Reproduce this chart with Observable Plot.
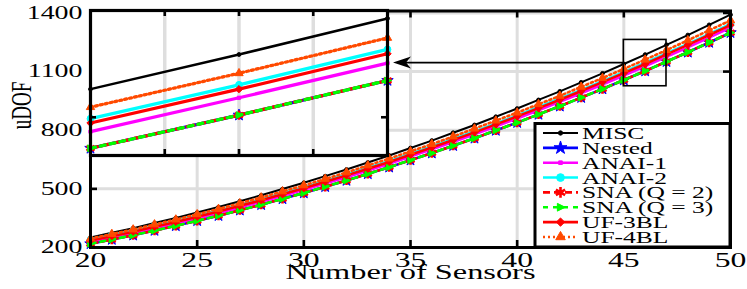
<!DOCTYPE html>
<html><head><meta charset="utf-8">
<script src="https://cdn.jsdelivr.net/npm/d3@7"></script>
<script src="https://cdn.jsdelivr.net/npm/@observablehq/plot@0.6"></script>
<style>
html,body{margin:0;padding:0;background:#fff;}
#wrap{position:relative;width:747px;height:289px;overflow:hidden;}
#wrap svg{position:absolute;left:0;top:0;}
</style></head><body><div id="wrap"></div>
<script>
// ---- data ----
const sensors = [20,21,22,23,24,25,26,27,28,29,30,31,32,33,34,35,36,37,38,39,40,41,42,43,44,45,46,47,48,49,50];
const misc   = [251,275,299,325,351,379,407,437,467,499,531,565,599,635,671,709,747,787,827,869,911,955,999,1045,1091,1139,1187,1237,1287,1339,1391];
const nested = [219,241,263,287,311,337,363,391,419,449,479,511,543,577,611,647,683,721,759,799,839,881,923,967,1011,1057,1103,1151,1199,1249,1299];
const anai1  = [230,252,275,299,324,350,377,405,434,464,495,527,560,594,629,665,702,740,779,819,860,902,945,989,1034,1080,1127,1175,1224,1274,1325];
const anai2  = [240,263,286,310,335,362,389,418,446,477,508,541,574,608,643,680,717,756,794,835,876,919,962,1006,1051,1098,1145,1194,1242,1293,1344];
const snaQ2  = [219,241,263,287,311,337,363,391,419,449,479,511,543,577,611,647,683,721,759,799,839,881,923,967,1011,1057,1103,1151,1199,1249,1299];
const snaQ3  = [219,241,263,287,311,337,363,391,419,449,479,511,543,577,611,647,683,721,759,799,839,881,923,967,1011,1057,1103,1151,1199,1249,1299];
const uf3bl  = [236,258,281,306,331,357,384,413,442,472,503,536,569,603,638,675,712,750,789,830,871,913,956,1001,1046,1092,1139,1188,1237,1287,1338];
const uf4bl  = [246,269,292,318,343,370,397,426,456,487,518,551,584,620,655,692,729,768,808,849,890,933,976,1022,1067,1114,1161,1210,1260,1311,1362];
const seriesNames = ["MISC","Nested","ANAI-1","ANAI-2","SNA (Q = 2)","SNA (Q = 3)","UF-3BL","UF-4BL"];
const seriesValues = [misc,nested,anai1,anai2,snaQ2,snaQ3,uf3bl,uf4bl];
const xTicks = [20,25,30,35,40,45,50];
const yTicks = [200,500,800,1100,1400];
const xDomain = [20,50];
const yDomain = [200,1410];
const insetXDomain = [45,47];
const insetYDomain = [1047,1248];
const insetXTicks = [45.5,46,46.5];
const insetYTicks = [1100];
const zoomBox = {x1:45, x2:47, y1:1025, y2:1262};
const xLabel = "Number of Sensors";
const yLabel = "uDOF";

// ---- styles ----
const triRight = {draw(ctx, size){const s=Math.sqrt(size); ctx.moveTo(0.75*s,0); ctx.lineTo(-0.5*s,-0.62*s); ctx.lineTo(-0.5*s,0.62*s); ctx.closePath();}};
const styles = [
  {color:"#000000", width:2,   dash:null,     symbol:"circle",   r:1.9, fill:true},
  {color:"#0000ff", width:2.6, dash:null,     symbol:"star",     r:3.6, fill:true},
  {color:"#ff00ff", width:2.6, dash:null,     symbol:"square",   r:1.8, fill:true},
  {color:"#00ffff", width:2.6, dash:null,     symbol:"circle",   r:3.4, fill:true},
  {color:"#ff0000", width:2.6, dash:"7,4",    symbol:"asterisk", r:4.4, fill:false},
  {color:"#00ff00", width:2.6, dash:"5,5",    symbol:triRight,   r:3.1, fill:true},
  {color:"#ff0000", width:2.6, dash:null,     symbol:"diamond2", r:3.3, fill:true},
  {color:"#ff4a00", width:2.6, dash:"2,3",    symbol:"triangle", r:3.1, fill:true}
];
const W=747, H=289, FONT="Liberation Serif";

function seriesMarks(filterFn, widthScale){
  const marks=[];
  seriesValues.forEach((vals,k)=>{
    const st=styles[k];
    const rows=sensors.map((n,i)=>({n, v:vals[i]})).filter(filterFn);
    marks.push(Plot.line(rows,{x:"n",y:"v",stroke:st.color,strokeWidth:st.width*widthScale,strokeDasharray:st.dash}));
    marks.push(Plot.dot(rows,{x:"n",y:"v",symbol:st.symbol,r:st.r,
      fill:st.fill?st.color:"none",stroke:st.color,strokeWidth:st.fill?1:2.6}));
  });
  return marks;
}

const mainFrameH = H-10.5-42, mainFrameW = W-90-17;
const main = Plot.plot({
  width:W, height:H, marginLeft:90, marginRight:17, marginTop:10.5, marginBottom:42,
  x:{domain:xDomain}, y:{domain:yDomain},
  style:{fontFamily:FONT, background:"white", color:"black"},
  marks:[
    Plot.gridX(xTicks,{stroke:"#dedede",strokeOpacity:1,strokeWidth:3}),
    Plot.gridY(yTicks,{stroke:"#dedede",strokeOpacity:1,strokeWidth:3}),
    ...seriesMarks(()=>true,1),
    Plot.rect([zoomBox],{x1:"x1",x2:"x2",y1:"y1",y2:"y2",fill:"none",stroke:"black",strokeWidth:1.6}),
    Plot.ruleX(xTicks,{x:d=>d,insetTop:mainFrameH-7,stroke:"black",strokeWidth:2.6}),
    Plot.ruleX(xTicks,{x:d=>d,insetBottom:mainFrameH-7,stroke:"black",strokeWidth:2.6}),
    Plot.ruleY(yTicks,{y:d=>d,insetRight:mainFrameW-7,stroke:"black",strokeWidth:2.6}),
    Plot.ruleY(yTicks,{y:d=>d,insetLeft:mainFrameW-7,stroke:"black",strokeWidth:2.6}),
    Plot.frame({stroke:"black",strokeWidth:3}),
    Plot.axisX(xTicks,{tickSize:0,tickPadding:5,fontSize:20,label:null,tickFormat:"d"}),
    Plot.axisY(yTicks,{tickSize:0,tickPadding:8,fontSize:18,label:null,tickFormat:"d"}),
    Plot.text([xLabel],{frameAnchor:"bottom",lineAnchor:"bottom",dy:31,fontSize:20}),
    Plot.text([yLabel],{frameAnchor:"left",rotate:-90,lineAnchor:"bottom",dx:-60,fontSize:19})
  ]
});

const insetL=90, insetR=387, insetT=10, insetB=155;
const insetFrameH=insetB-insetT, insetFrameW=insetR-insetL;
const inset = Plot.plot({
  width:W, height:H, marginLeft:insetL, marginRight:W-insetR, marginTop:insetT, marginBottom:H-insetB,
  x:{domain:insetXDomain, axis:null}, y:{domain:insetYDomain, axis:null},
  style:{background:"transparent", fontFamily:FONT},
  marks:[
    Plot.frame({fill:"white",stroke:"none"}),
    Plot.gridX(insetXTicks,{stroke:"#dedede",strokeOpacity:1,strokeWidth:3.5}),
    ...seriesMarks(d=>d.n>=insetXDomain[0]&&d.n<=insetXDomain[1],1.25),
    Plot.ruleX(insetXTicks,{x:d=>d,insetTop:insetFrameH-6,stroke:"black",strokeWidth:2.6}),
    Plot.ruleX(insetXTicks,{x:d=>d,insetBottom:insetFrameH-6,stroke:"black",strokeWidth:2.6}),
    Plot.ruleY(insetYTicks,{y:d=>d,insetRight:insetFrameW-6,stroke:"black",strokeWidth:2.6}),
    Plot.ruleY(insetYTicks,{y:d=>d,insetLeft:insetFrameW-6,stroke:"black",strokeWidth:2.6}),
    Plot.frame({stroke:"black",strokeWidth:3.2})
  ]
});

function stretchEl(el, sx){
  let t=el.getAttribute("transform")||"";
  const x=el.getAttribute("x");
  if(x!==null && isFinite(+x)){ t+=` translate(${+x},0)`; el.removeAttribute("x"); }
  const rot=/rotate\(\s*(-90|270)/.test(t);
  t+= rot?` scale(1,${sx})`:` scale(${sx},1)`;
  el.setAttribute("transform",t.trim());
}
main.querySelectorAll('g[aria-label="x-axis tick label"] text').forEach(el=>stretchEl(el,1.58));
main.querySelectorAll('g[aria-label="y-axis tick label"] text').forEach(el=>stretchEl(el,1.55));
main.querySelectorAll('text').forEach(el=>{
  if(el.textContent===xLabel) stretchEl(el,1.62);
  else if(el.textContent===yLabel) stretchEl(el,1.6);
});

// arrow from zoom box to inset
const sx=main.scale("x"), sy=main.scale("y");
const ay=sy.apply((zoomBox.y1+zoomBox.y2)/2);
const ax0=sx.apply(zoomBox.x1), tip=insetR+6;
const g=d3.select(main).append("g");
g.append("line").attr("x1",ax0).attr("x2",tip+12).attr("y1",ay).attr("y2",ay).attr("stroke","black").attr("stroke-width",1.6);
g.append("path").attr("d",`M${tip},${ay}L${tip+18},${ay-6}L${tip+13},${ay}L${tip+18},${ay+6}Z`).attr("fill","black");

// legend
const lg=d3.select(main).append("g").attr("font-family",FONT).attr("text-anchor","start");
const lx0=535, lx1=sx.apply(xDomain[1]), ly0=123.5, ly1=sy.apply(yDomain[0]);
lg.append("rect").attr("x",lx0).attr("y",ly0).attr("width",lx1-lx0).attr("height",ly1-ly0).attr("fill","white").attr("stroke","black").attr("stroke-width",3);
function symbolType(s){
  const m={circle:d3.symbolCircle,star:d3.symbolStar,square:d3.symbolSquare,asterisk:d3.symbolAsterisk,diamond2:d3.symbolDiamond2,triangle:d3.symbolTriangle};
  return typeof s==="string"?m[s]:s;
}
seriesNames.forEach((name,i)=>{
  const st=styles[i], cy=133+i*14.85;
  lg.append("line").attr("x1",543).attr("x2",578).attr("y1",cy).attr("y2",cy).attr("stroke",st.color).attr("stroke-width",st.width).attr("stroke-dasharray",st.dash);
  lg.append("path").attr("d",d3.symbol(symbolType(st.symbol),Math.PI*st.r*st.r*1.3)()).attr("transform",`translate(560.5,${cy})`)
    .attr("fill",st.fill?st.color:"none").attr("stroke",st.color).attr("stroke-width",st.fill?1:2.6);
  lg.append("text").attr("transform",`translate(582,${cy}) scale(1.5,1)`).attr("dy","0.35em").attr("text-anchor","start").attr("font-size",17).attr("fill","black").text(name);
});

const wrap=document.getElementById("wrap");
wrap.appendChild(main);
wrap.appendChild(inset);
</script></body></html>
